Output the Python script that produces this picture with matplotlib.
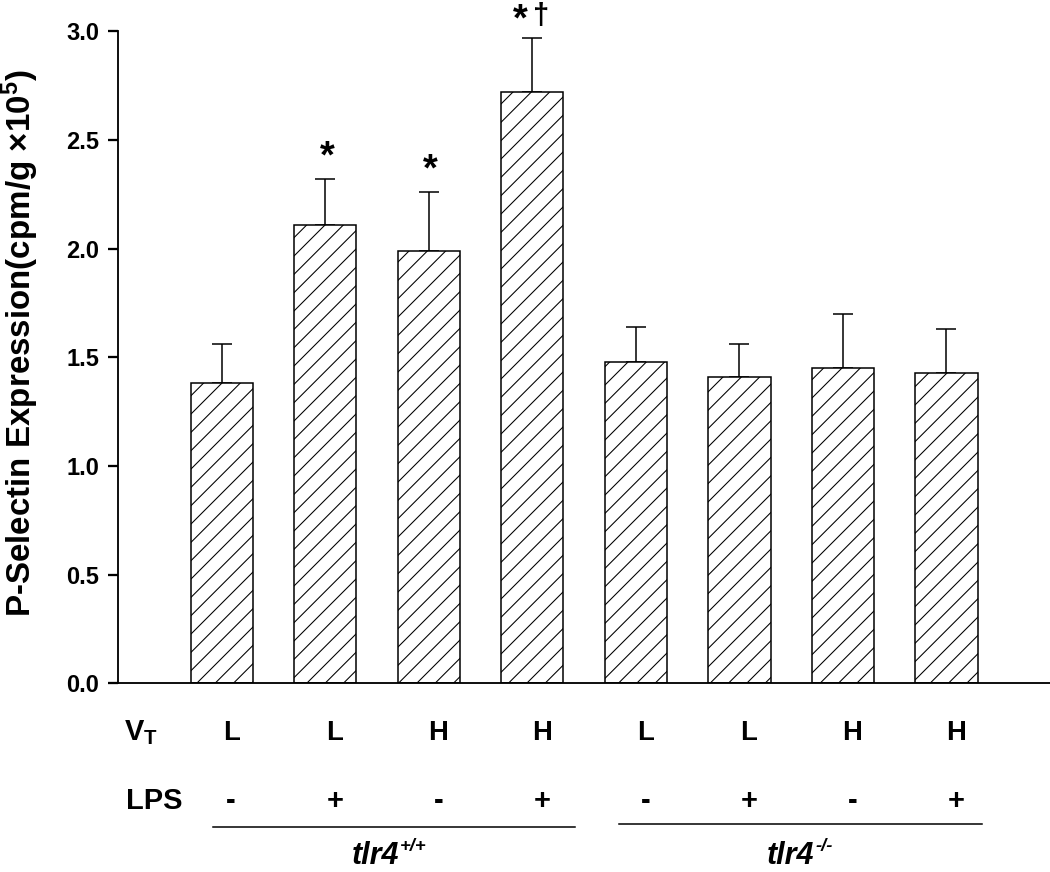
import numpy as np
import matplotlib
matplotlib.use("Agg")
import matplotlib.pyplot as plt
import matplotlib.transforms as mtransforms

plt.rcParams['font.family'] = ['Liberation Sans', 'DejaVu Sans']
plt.rcParams['font.weight'] = 'bold'
plt.rcParams['mathtext.fontset'] = 'custom'
plt.rcParams['mathtext.rm'] = 'Liberation Sans:bold'
plt.rcParams['mathtext.bf'] = 'Liberation Sans:bold'
plt.rcParams['mathtext.it'] = 'Liberation Sans:italic:bold'
plt.rcParams['hatch.linewidth'] = 0.7
plt.rcParams['hatch.color'] = 'black'

# data
vt_labels = ['L', 'L', 'H', 'H', 'L', 'L', 'H', 'H']
lps_labels = ['-', '+', '-', '+', '-', '+', '-', '+']
means = [1.38, 2.11, 1.99, 2.72, 1.48, 1.41, 1.45, 1.43]
sem = [0.18, 0.21, 0.27, 0.25, 0.16, 0.15, 0.25, 0.20]
stars = [False, True, True, True, False, False, False, False]
daggers = [False, False, False, True, False, False, False, False]
group_names = ['tlr4', 'tlr4']
group_sups = ['+/+', '-/-']

dpi = 110
fig = plt.figure(figsize=(1050 / dpi, 872 / dpi), dpi=dpi)
ax = fig.add_axes([0.1127, 0.2164, 0.8873, 0.7475])

x = np.arange(len(means))
ax.bar(x, means, width=0.6, color='white', edgecolor='black',
       linewidth=1.0, hatch='//', zorder=2)
ax.errorbar(x, means, yerr=[np.zeros(len(sem)), sem], fmt='none',
            ecolor='black', elinewidth=1.0, capsize=6.5, capthick=1.0, zorder=1)

# significance marks (* vs control, dagger vs other group)
for i in range(len(means)):
    top = means[i] + sem[i]
    if stars[i]:
        # star next to a dagger sits to the left and a bit lower (top of figure)
        dx, dy = (-8, 5) if daggers[i] else (1, 8)
        ax.annotate('*', (x[i], top), xytext=(dx, dy),
                    textcoords='offset points', ha='center', va='baseline',
                    fontsize=25, fontweight='bold')
    if daggers[i]:
        ax.annotate('\u2020', (x[i], top), xytext=(6, 9),
                    textcoords='offset points', ha='center', va='baseline',
                    fontsize=19, fontweight='bold')

ax.set_xlim(-1, 8)
ax.set_ylim(0, 3.0)
ticks = np.arange(0, 3.01, 0.5)
ax.set_yticks(ticks)
ax.set_yticklabels([f'{v:.1f}' for v in ticks], fontsize=15.5, fontweight='bold')
ax.set_xticks([])
ax.tick_params(axis='y', length=6.5, width=1.5, direction='out', pad=6)
for s in ['top', 'right']:
    ax.spines[s].set_visible(False)
for s in ['left', 'bottom']:
    ax.spines[s].set_linewidth(1.2)

fig.text(20 / 1050, 1 - 343 / 872, 'P-Selectin Expression(cpm/g \u00d710$^{5}$)',
         rotation=90, ha='center', va='center', fontsize=21.7, fontweight='bold')

# condition rows under the axis
trans = mtransforms.blended_transform_factory(ax.transData, fig.transFigure)
y_vt = 1 - 733 / 872
y_lps = 1 - 801 / 872
ax.text(-0.95, y_vt, r'$\mathbf{V_T}$', transform=trans, ha='left', va='center',
        fontsize=19)
ax.text(-0.93, y_lps, 'LPS', transform=trans, ha='left', va='center',
        fontsize=19, fontweight='bold')
for i in range(len(means)):
    ax.text(x[i] + 0.09, y_vt, vt_labels[i], transform=trans, ha='center',
            va='center', fontsize=18, fontweight='bold')
    ax.text(x[i] + 0.09, y_lps, lps_labels[i], transform=trans, ha='center',
            va='center', fontsize=19, fontweight='bold')

# group lines and labels
ax.plot([-0.09, 3.41], [1 - 826.5 / 872] * 2, transform=trans, color='black',
        lw=1.0, clip_on=False)
ax.plot([3.84, 7.34], [1 - 823.5 / 872] * 2, transform=trans, color='black',
        lw=1.0, clip_on=False)
for gx, name, sup in zip([1.71, 5.72], group_names, group_sups):
    ax.text(gx, 1 - 864 / 872, name, transform=trans, ha='right', va='baseline',
            fontsize=20, fontweight='bold', style='italic')
    ax.text(gx + 0.01, 1 - 851 / 872, sup, transform=trans, ha='left',
            va='baseline', fontsize=12, fontweight='bold', style='italic')

fig.savefig('out.png', dpi=dpi)
